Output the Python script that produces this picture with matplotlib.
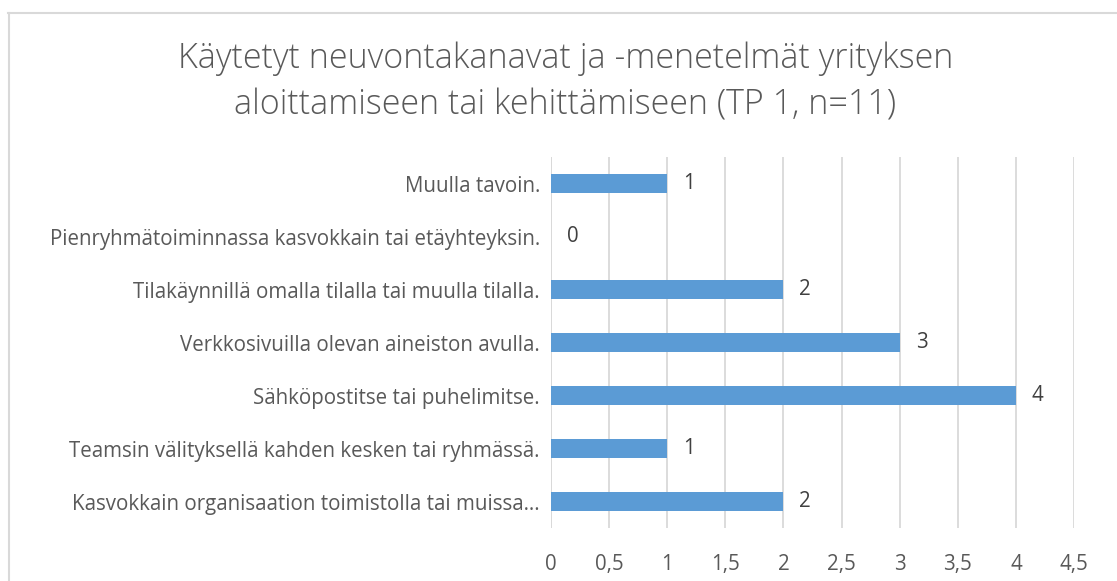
import matplotlib
matplotlib.use("Agg")
import matplotlib.pyplot as plt
from matplotlib.lines import Line2D

# data (top to bottom as shown in the chart)
categories = [
    "Muulla tavoin.",
    "Pienryhmätoiminnassa kasvokkain tai etäyhteyksin.",
    "Tilakäynnillä omalla tilalla tai muulla tilalla.",
    "Verkkosivuilla olevan aineiston avulla.",
    "Sähköpostitse tai puhelimitse.",
    "Teamsin välityksellä kahden kesken tai ryhmässä.",
    "Kasvokkain organisaation toimistolla tai muissa…",
]
counts = [1, 0, 2, 3, 4, 1, 2]
x_ticks = [0, 0.5, 1, 1.5, 2, 2.5, 3, 3.5, 4, 4.5]
x_tick_labels = ["0", "0,5", "1", "1,5", "2", "2,5", "3", "3,5", "4", "4,5"]
title = "Käytetyt neuvontakanavat ja -menetelmät yrityksen\naloittamiseen tai kehittämiseen (TP 1, n=11)"

plt.rcParams["font.family"] = ["Open Sans", "DejaVu Sans"]
text_col = "#595959"
bar_col = "#5B9BD5"
grid_col = "#D9D9D9"

fig = plt.figure(figsize=(11.17, 5.81), dpi=100)
ax = fig.add_axes([551 / 1117, 1 - 528 / 581, (1074 - 551) / 1117, (528 - 157) / 581])

pos = list(range(len(categories)))
ax.barh(pos, counts, height=0.37, color=bar_col, zorder=3)
ax.set_ylim(len(categories) - 0.5, -0.5)
ax.set_xlim(0, 4.5)

ax.set_yticks(pos)
ax.set_yticklabels(categories, fontsize=14.8, color=text_col)
ax.set_xticks(x_ticks)
ax.set_xticklabels(x_tick_labels, fontsize=14.8, color=text_col)
ax.tick_params(axis="y", length=0, pad=8)
ax.tick_params(axis="x", length=0, pad=19)

ax.grid(axis="x", color=grid_col, linewidth=1.3, zorder=0)
for s in ax.spines.values():
    s.set_visible(False)
ax.axvline(0, color=grid_col, linewidth=1.3, zorder=1)

# value labels
for p, c in zip(pos, counts):
    ax.annotate(str(c), (c, p), xytext=(11.5, 0), textcoords="offset points",
                ha="left", va="center", fontsize=14.8, color="#404040")

fig.text(0.506, 1 - 82 / 581, title, ha="center", va="center", fontsize=24.5,
         color=text_col, linespacing=1.42, fontweight="light")

# chart frame
fig.add_artist(Line2D([8 / 1117, 1], [1 - 13 / 581, 1 - 13 / 581], color="#D9D9D9", linewidth=1.5))
fig.add_artist(Line2D([9 / 1117, 9 / 1117], [0, 1 - 13 / 581], color="#D9D9D9", linewidth=1.5))

fig.savefig("out.png", dpi=100)
